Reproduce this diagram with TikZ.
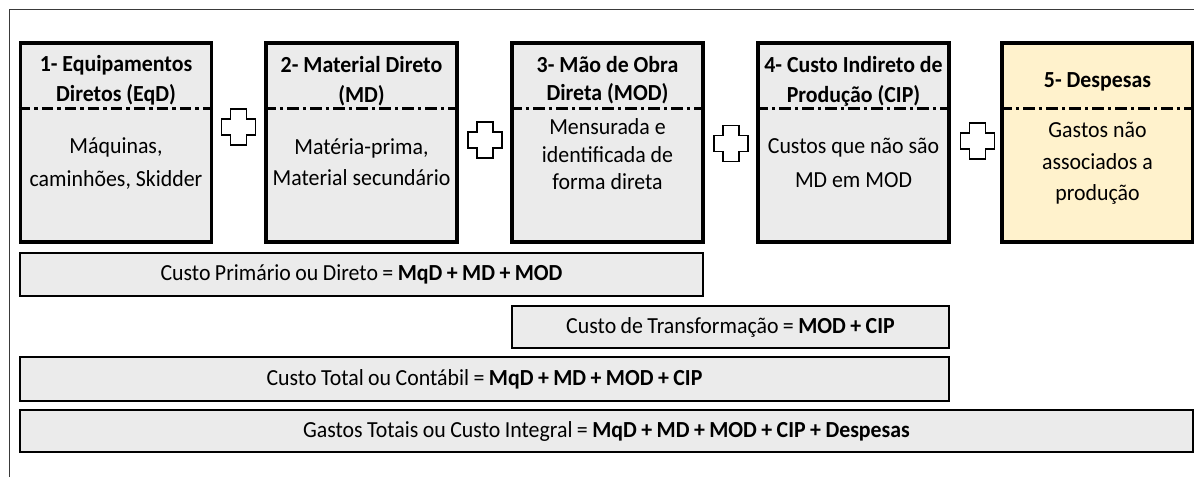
\documentclass[tikz,border=0pt]{standalone}
\usepackage{fontspec}
\setmainfont{Carlito}[FakeStretch=0.95]
\newfontfamily\barfont{Carlito}[FakeStretch=0.95, WordSpace=0.9]
\usetikzlibrary{calc}
\definecolor{boxgray}{HTML}{EBEBEB}
\definecolor{boxcream}{HTML}{FFF2CC}
\definecolor{framegray}{HTML}{3A3A3A}

\tikzset{
  costbox/.style={draw=black, line width=3.2pt, fill=boxgray,
    minimum width=191pt, minimum height=199pt, inner sep=0pt},
  costbar/.style={draw=black, line width=2.6pt, fill=boxgray, inner sep=0pt,
    minimum height=43pt, font=\barfont\fontsize{23}{26}\selectfont},
  titletext/.style={font=\fontsize{23}{30}\selectfont\bfseries, align=center, inner sep=0pt},
  bodytext/.style={font=\fontsize{23}{32}\selectfont, align=center, inner sep=0pt},
  divider/.style={line width=2.3pt, dash pattern=on 11.5pt off 4pt on 3.5pt off 4pt},
  plusmark/.pic={
    \draw[line width=1.3pt, fill=white]
      (-8,-18) -- (8,-18) -- (8,-8) -- (17,-8) -- (17,8) -- (8,8)
      -- (8,18) -- (-8,18) -- (-8,8) -- (-17,8) -- (-17,-8) -- (-8,-8) -- cycle;
  }
}

\begin{document}
\begin{tikzpicture}[x=1pt, y=-1pt]
\useasboundingbox (0,0) rectangle (1194,477);

% outer frame (only its top and left edges fall inside the page)
\draw[framegray, line width=1.2pt] (9.5,477) -- (9.5,9.5) -- (1194,9.5);

% ---- the five cost components ----
\node[costbox] (eqd) at (116,142.5) {};
\draw[divider] ($(eqd.north west)+(0,67)$) -- ($(eqd.north east)+(0,67)$);
\node[titletext] (eqdtitle) at (116,80.5) {1- Equipamentos\\Diretos (EqD)};
\node[bodytext, font=\fontsize{23}{33}\selectfont] (eqdbody) at (116,164)
  {Máquinas,\\caminhões, Skidder};

\node[costbox] (md) at (361.5,142.5) {};
\draw[divider] ($(md.north west)+(0,67)$) -- ($(md.north east)+(0,67)$);
\node[titletext] (mdtitle) at (361.5,81) {2- Material Direto\\(MD)};
\node[bodytext, font=\fontsize{23}{31}\selectfont] (mdbody) at (361.5,162.5)
  {Matéria-prima,\\Material secundário};

\node[costbox] (mod) at (607.5,142.5) {};
\draw[divider] ($(mod.north west)+(0,67)$) -- ($(mod.north east)+(0,67)$);
\node[titletext, font=\fontsize{23}{28.5}\selectfont\bfseries] (modtitle) at (607.5,80)
  {3- Mão de Obra\\Direta (MOD)};
\node[bodytext, font=\fontsize{23}{27.5}\selectfont] (modbody) at (607.5,154.5)
  {Mensurada e\\identificada de\\forma direta};

\node[costbox] (cip) at (853.5,142.5) {};
\draw[divider] ($(cip.north west)+(0,67)$) -- ($(cip.north east)+(0,67)$);
\node[titletext] (ciptitle) at (853.5,81) {4- Custo Indireto de\\Produção (CIP)};
\node[bodytext, font=\fontsize{23}{34}\selectfont] (cipbody) at (853.5,162.5)
  {Custos que não são\\MD em MOD};

\node[costbox, fill=boxcream] (desp) at (1097.5,142.5) {};
\draw[divider] ($(desp.north west)+(0,67)$) -- ($(desp.north east)+(0,67)$);
\node[titletext] (desptitle) at (1097.5,82) {5- Despesas};
\node[bodytext, font=\fontsize{23}{31.5}\selectfont] (despbody) at (1097.5,163.5)
  {Gastos não\\associados a\\produção};

% ---- plus signs between the components ----
\pic at (238.5,127) {plusmark};
\pic at (485,140) {plusmark};
\pic at (731,143.5) {plusmark};
\pic at (977.5,141) {plusmark};

% ---- cost aggregates ----
\node[costbar, minimum width=683pt] (primario) at (361.5,274.5)
  {Custo Primário ou Direto = \textbf{MqD + MD + MOD}};
\node[costbar, minimum width=437pt, minimum height=42pt] (transf) at (730.5,327)
  {Custo de Transformação = \textbf{MOD + CIP}};
\node[costbar, minimum width=929pt, minimum height=44pt] (total) at (484.5,379)
  {Custo Total ou Contábil = \textbf{MqD + MD + MOD + CIP}};
\node[costbar, minimum width=1173pt, minimum height=42pt] (integral) at (606.5,431)
  {Gastos Totais ou Custo Integral = \textbf{MqD + MD + MOD + CIP + Despesas}};
\end{tikzpicture}
\end{document}
